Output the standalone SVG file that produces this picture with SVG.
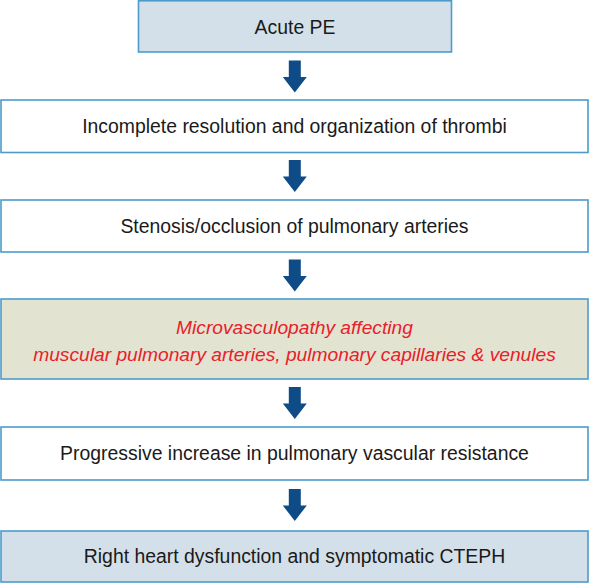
<svg xmlns="http://www.w3.org/2000/svg" width="590" height="584" viewBox="0 0 590 584">
<defs>
<style>
.box{stroke:#4d9bcb;stroke-width:1.6}
.blue{fill:#d3e0e9}
.white{fill:#ffffff}
.olive{fill:#e3e3d1}
.t{font-family:"Liberation Sans",Arial,sans-serif;font-size:19.4px;fill:#1a1a1a;text-anchor:middle}
.r{font-family:"Liberation Sans",Arial,sans-serif;font-size:19.2px;fill:#e8202a;font-style:italic;text-anchor:middle}
.arr{fill:#0f4c87}
</style>
<path id="a" d="M-6,0 H6 V16.5 H12 L0,32 L-12,16.5 H-6 Z"/>
</defs>
<rect width="590" height="584" fill="#ffffff"/>
<g id="n1"><rect class="box blue" x="138.5" y="0.8" width="313" height="51.2"/><text class="t" x="295" y="33.5">Acute PE</text></g>
<g id="n2"><rect class="box white" x="1" y="100" width="587" height="52.5"/><text class="t" x="294.5" y="133">Incomplete resolution and organization of thrombi</text></g>
<g id="n3"><rect class="box white" x="1" y="200" width="587" height="52"/><text class="t" x="294.5" y="233">Stenosis/occlusion of pulmonary arteries</text></g>
<g id="n4"><rect class="box olive" x="1" y="299" width="587" height="80"/><text class="r" x="294.5" y="334">Microvasculopathy affecting</text><text class="r" x="294.5" y="361">muscular pulmonary arteries, pulmonary capillaries &amp; venules</text></g>
<g id="n5"><rect class="box white" x="1" y="427" width="587" height="53"/><text class="t" x="294.5" y="460">Progressive increase in pulmonary vascular resistance</text></g>
<g id="n6"><rect class="box blue" x="1" y="531" width="587" height="51"/><text class="t" x="294.5" y="563">Right heart dysfunction and symptomatic CTEPH</text></g>
<g id="connectors">
<use href="#a" class="arr" x="294.8" y="60.5"/>
<use href="#a" class="arr" x="294.8" y="160"/>
<use href="#a" class="arr" x="294.8" y="259.5"/>
<use href="#a" class="arr" x="294.8" y="387"/>
<use href="#a" class="arr" x="294.8" y="489"/>
</g>
</svg>
